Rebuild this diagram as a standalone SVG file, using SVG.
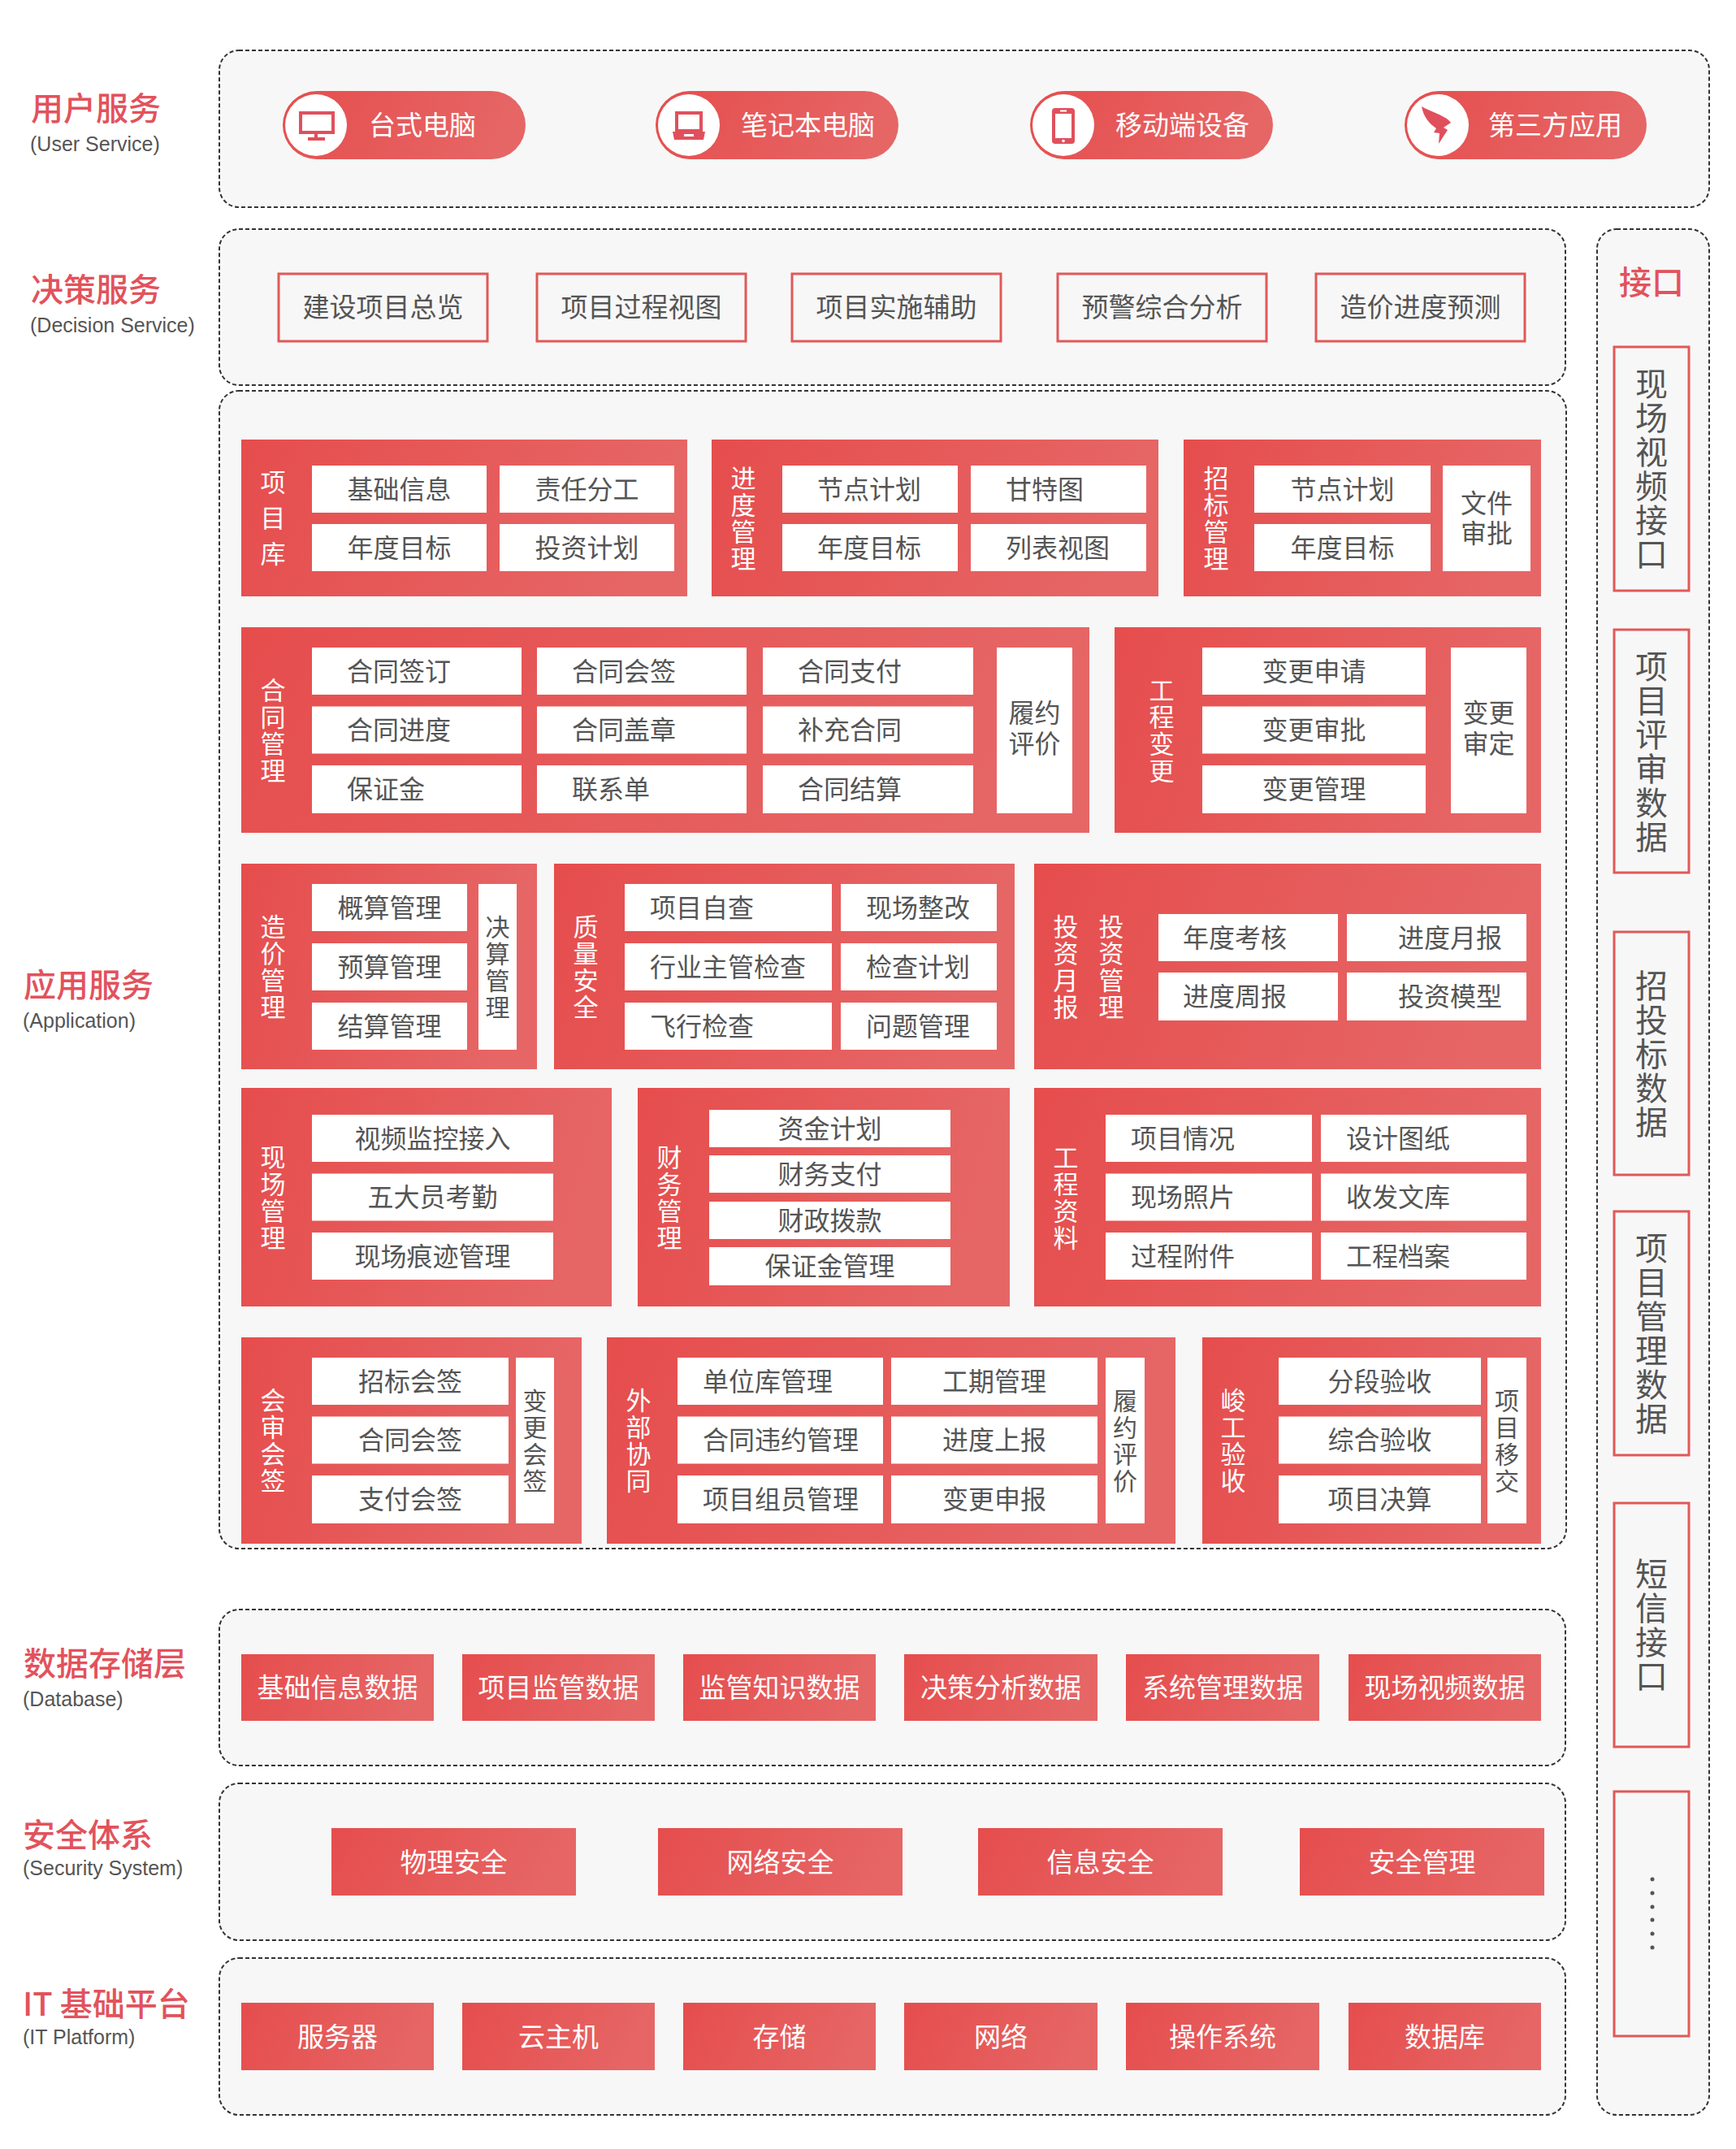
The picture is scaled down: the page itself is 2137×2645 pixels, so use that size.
<svg xmlns="http://www.w3.org/2000/svg" width="2137" height="2645" viewBox="0 0 2137 2645">
<defs>
<linearGradient id="rg" x1="0" y1="0" x2="1" y2="0.15">
<stop offset="0" stop-color="#e64d4d"/>
<stop offset="1" stop-color="#e66666"/>
</linearGradient>
<style>
text{font-family:"Noto Sans CJK SC","Noto Sans",sans-serif}
.box{fill:#f7f7f7;stroke:#333;stroke-width:2;stroke-dasharray:5 3}
.b{fill:url(#rg)}
.w{fill:#fff}
.ob{fill:#f7f7f7;stroke:#e25858;stroke-width:3}
.t{font-size:32px;fill:#555}
.c{text-anchor:middle}
.e{text-anchor:end}
.v{writing-mode:vertical-rl;text-orientation:upright;text-anchor:middle}
.vl{font-size:31px;fill:#fff;letter-spacing:2px}
.vl3{font-size:31px;fill:#fff;letter-spacing:13px}
.vg{font-size:30px;fill:#555;letter-spacing:3px}
.wt{font-size:33px;fill:#fff;text-anchor:middle}
.dt{font-size:33px;fill:#555;text-anchor:middle}
.it{font-size:40px;fill:#555;letter-spacing:2px}
.ttl{font-size:40px;fill:#e2525c;font-weight:500}
.sub{font-family:"Liberation Sans",Arial,sans-serif;font-size:25px;fill:#555}
.pt{font-size:33px;fill:#fff}
.ic{fill:none;stroke:#e0505c;stroke-width:4}
.icf{fill:#e0505c}
</style>
</defs>

<g id="labels">
<text class="ttl" x="38" y="148">用户服务</text>
<text class="sub" x="37" y="186">(User Service)</text>
<text class="ttl" x="38" y="371">决策服务</text>
<text class="sub" x="37" y="409">(Decision Service)</text>
<text class="ttl" x="29" y="1227">应用服务</text>
<text class="sub" x="28" y="1265">(Application)</text>
<text class="ttl" x="29" y="2062">数据存储层</text>
<text class="sub" x="28" y="2100">(Database)</text>
<text class="ttl" x="28" y="2273">安全体系</text>
<text class="sub" x="28" y="2308">(Security System)</text>
<text class="ttl" x="28" y="2481">IT 基础平台</text>
<text class="sub" x="28" y="2516">(IT Platform)</text>
</g>

<g id="containers">
<rect class="box" x="270" y="62" width="1834" height="193" rx="24"/>
<rect class="box" x="270" y="282" width="1657" height="192" rx="24"/>
<rect class="box" x="270" y="481" width="1658" height="1425" rx="24"/>
<rect class="box" x="1966" y="282" width="138" height="2321" rx="24"/>
<rect class="box" x="270" y="1981" width="1657" height="192" rx="24"/>
<rect class="box" x="270" y="2195" width="1657" height="193" rx="24"/>
<rect class="box" x="270" y="2410" width="1657" height="193" rx="24"/>
</g>

<g id="connectors"></g>

<g id="user-desktop">
<rect class="b" x="348" y="112" width="299" height="84" rx="42"/>
<circle cx="389" cy="154" r="38" fill="#fff"/>
<rect class="ic" x="370" y="139" width="40" height="24"/>
<path class="ic" d="M389 163V170M379 171H400"/>
<text class="pt" x="454" y="166">台式电脑</text>
</g>
<g id="user-laptop">
<rect class="b" x="807" y="112" width="299" height="84" rx="42"/>
<circle cx="848" cy="154" r="38" fill="#fff"/>
<rect class="ic" x="833" y="139" width="30" height="22"/>
<path class="icf" d="M828 162H868L866 172H830Z"/>
<rect x="842" y="165" width="12" height="3" fill="#fff"/>
<text class="pt" x="912" y="166">笔记本电脑</text>
</g>
<g id="user-mobile">
<rect class="b" x="1268" y="112" width="299" height="84" rx="42"/>
<circle cx="1309" cy="154" r="38" fill="#fff"/>
<rect class="icf" x="1295" y="133" width="28" height="44" rx="4"/>
<rect x="1299" y="140" width="20" height="30" fill="#fff"/>
<circle cx="1309" cy="173.5" r="1.8" fill="#fff"/>
<rect x="1305" y="135.5" width="8" height="2" fill="#fff"/>
<text class="pt" x="1373" y="166">移动端设备</text>
</g>
<g id="user-thirdparty">
<rect class="b" x="1729" y="112" width="298" height="84" rx="42"/>
<circle cx="1770" cy="154" r="38" fill="#fff"/>
<path class="icf" d="M1750 131C1762 138 1781 143 1786 151L1777 157L1782 160L1771 177L1772 164L1765 163L1768 158C1759 152 1752 143 1750 131Z"/>
<text class="pt" x="1832" y="166">第三方应用</text>
</g>

<g id="decision">
<rect class="ob" x="343" y="337" width="257" height="83"/>
<text class="dt" x="471.5" y="390">建设项目总览</text>
<rect class="ob" x="661" y="337" width="257" height="83"/>
<text class="dt" x="789.5" y="390">项目过程视图</text>
<rect class="ob" x="975" y="337" width="257" height="83"/>
<text class="dt" x="1103.5" y="390">项目实施辅助</text>
<rect class="ob" x="1302" y="337" width="257" height="83"/>
<text class="dt" x="1430.5" y="390">预警综合分析</text>
<rect class="ob" x="1620" y="337" width="257" height="83"/>
<text class="dt" x="1748.5" y="390">造价进度预测</text>
</g>

<g id="interface">
<text class="ttl" x="2033" y="362" text-anchor="middle">接口</text>
<rect class="ob" x="1987" y="427" width="92" height="300"/>
<text class="v it" x="2033" y="578">现场视频接口</text>
<rect class="ob" x="1987" y="775" width="92" height="299"/>
<text class="v it" x="2033" y="925.5">项目评审数据</text>
<rect class="ob" x="1987" y="1147" width="92" height="299"/>
<text class="v it" x="2033" y="1297.5">招投标数据</text>
<rect class="ob" x="1987" y="1491" width="92" height="300"/>
<text class="v it" x="2033" y="1642">项目管理数据</text>
<rect class="ob" x="1987" y="1850" width="92" height="300"/>
<text class="v it" x="2033" y="2001">短信接口</text>
<rect class="ob" x="1987" y="2205" width="92" height="301"/>
<g fill="#555"><circle cx="2034" cy="2313" r="2.5"/><circle cx="2034" cy="2330" r="2.5"/><circle cx="2034" cy="2347" r="2.5"/><circle cx="2034" cy="2363" r="2.5"/><circle cx="2034" cy="2380" r="2.5"/><circle cx="2034" cy="2397" r="2.5"/></g>
</g>

<g id="project-library">
<rect class="b" x="297" y="541" width="549" height="193"/>
<text class="v vl3" x="336" y="644">项目库</text>
<rect class="w" x="384" y="573" width="215" height="58"/><text class="t c" x="491.5" y="613.5">基础信息</text>
<rect class="w" x="615" y="573" width="215" height="58"/><text class="t c" x="722.5" y="613.5">责任分工</text>
<rect class="w" x="384" y="645" width="215" height="58"/><text class="t c" x="491.5" y="685.5">年度目标</text>
<rect class="w" x="615" y="645" width="215" height="58"/><text class="t c" x="722.5" y="685.5">投资计划</text>
</g>

<g id="progress-mgmt">
<rect class="b" x="876" y="541" width="550" height="193"/>
<text class="v vl" x="915" y="638.5">进度管理</text>
<rect class="w" x="963" y="573" width="216" height="58"/><text class="t" x="1006" y="613.5">节点计划</text>
<rect class="w" x="1195" y="573" width="216" height="58"/><text class="t" x="1238" y="613.5">甘特图</text>
<rect class="w" x="963" y="645" width="216" height="58"/><text class="t" x="1006" y="685.5">年度目标</text>
<rect class="w" x="1195" y="645" width="216" height="58"/><text class="t" x="1238" y="685.5">列表视图</text>
</g>

<g id="bidding-mgmt">
<rect class="b" x="1457" y="541" width="440" height="193"/>
<text class="v vl" x="1497" y="638.5">招标管理</text>
<rect class="w" x="1544" y="573" width="217" height="58"/><text class="t c" x="1652.5" y="613.5">节点计划</text>
<rect class="w" x="1544" y="645" width="217" height="58"/><text class="t c" x="1652.5" y="685.5">年度目标</text>
<rect class="w" x="1776" y="573" width="108" height="130"/>
<text class="t c" x="1830" y="630.5">文件</text>
<text class="t c" x="1830" y="667.5">审批</text>
</g>

<g id="contract-mgmt">
<rect class="b" x="297" y="772" width="1044" height="253"/>
<text class="v vl" x="336" y="899.5">合同管理</text>
<rect class="w" x="384" y="797" width="258" height="58"/><text class="t" x="427" y="837.5">合同签订</text>
<rect class="w" x="661" y="797" width="258" height="58"/><text class="t" x="704" y="837.5">合同会签</text>
<rect class="w" x="939" y="797" width="259" height="58"/><text class="t" x="982" y="837.5">合同支付</text>
<rect class="w" x="384" y="869.5" width="258" height="58"/><text class="t" x="427" y="910">合同进度</text>
<rect class="w" x="661" y="869.5" width="258" height="58"/><text class="t" x="704" y="910">合同盖章</text>
<rect class="w" x="939" y="869.5" width="259" height="58"/><text class="t" x="982" y="910">补充合同</text>
<rect class="w" x="384" y="942" width="258" height="59"/><text class="t" x="427" y="982.5">保证金</text>
<rect class="w" x="661" y="942" width="258" height="59"/><text class="t" x="704" y="982.5">联系单</text>
<rect class="w" x="939" y="942" width="259" height="59"/><text class="t" x="982" y="982.5">合同结算</text>
<rect class="w" x="1227" y="797" width="93" height="204"/>
<text class="t c" x="1273.5" y="889">履约</text>
<text class="t c" x="1273.5" y="927">评价</text>
</g>

<g id="engineering-change">
<rect class="b" x="1372" y="772" width="525" height="253"/>
<text class="v vl" x="1430" y="899.5">工程变更</text>
<rect class="w" x="1480" y="797" width="275" height="58"/><text class="t c" x="1617.5" y="837.5">变更申请</text>
<rect class="w" x="1480" y="869.5" width="275" height="58"/><text class="t c" x="1617.5" y="910">变更审批</text>
<rect class="w" x="1480" y="942" width="275" height="59"/><text class="t c" x="1617.5" y="982.5">变更管理</text>
<rect class="w" x="1786" y="797" width="93" height="204"/>
<text class="t c" x="1832.5" y="889">变更</text>
<text class="t c" x="1832.5" y="927">审定</text>
</g>

<g id="cost-mgmt">
<rect class="b" x="297" y="1063" width="364" height="253"/>
<text class="v vl" x="336" y="1190.5">造价管理</text>
<rect class="w" x="384" y="1088" width="191" height="58"/><text class="t c" x="479.5" y="1128.5">概算管理</text>
<rect class="w" x="384" y="1161" width="191" height="58"/><text class="t c" x="479.5" y="1201.5">预算管理</text>
<rect class="w" x="384" y="1234" width="191" height="58"/><text class="t c" x="479.5" y="1274.5">结算管理</text>
<rect class="w" x="589" y="1088" width="47" height="204"/>
<text class="v vg" x="612.5" y="1191.5">决算管理</text>
</g>

<g id="quality-safety">
<rect class="b" x="682" y="1063" width="567" height="253"/>
<text class="v vl" x="721" y="1190.5">质量安全</text>
<rect class="w" x="769" y="1088" width="255" height="58"/><text class="t" x="800" y="1128.5">项目自查</text>
<rect class="w" x="1035" y="1088" width="192" height="58"/><text class="t" x="1066" y="1128.5">现场整改</text>
<rect class="w" x="769" y="1161" width="255" height="58"/><text class="t" x="800" y="1201.5">行业主管检查</text>
<rect class="w" x="1035" y="1161" width="192" height="58"/><text class="t" x="1066" y="1201.5">检查计划</text>
<rect class="w" x="769" y="1234" width="255" height="58"/><text class="t" x="800" y="1274.5">飞行检查</text>
<rect class="w" x="1035" y="1234" width="192" height="58"/><text class="t" x="1066" y="1274.5">问题管理</text>
</g>

<g id="investment-mgmt">
<rect class="b" x="1273" y="1063" width="624" height="253"/>
<text class="v vl" x="1312" y="1190.5">投资月报</text>
<text class="v vl" x="1368" y="1190.5">投资管理</text>
<rect class="w" x="1426" y="1125" width="221" height="58"/><text class="t" x="1456" y="1165.5">年度考核</text>
<rect class="w" x="1658" y="1125" width="221" height="58"/><text class="t e" x="1849" y="1165.5">进度月报</text>
<rect class="w" x="1426" y="1197" width="221" height="59"/><text class="t" x="1456" y="1238">进度周报</text>
<rect class="w" x="1658" y="1197" width="221" height="59"/><text class="t e" x="1849" y="1238">投资模型</text>
</g>

<g id="site-mgmt">
<rect class="b" x="297" y="1339" width="456" height="269"/>
<text class="v vl" x="336" y="1474.5">现场管理</text>
<rect class="w" x="384" y="1372" width="297" height="58"/><text class="t c" x="532.5" y="1412.5">视频监控接入</text>
<rect class="w" x="384" y="1444.5" width="297" height="58"/><text class="t c" x="532.5" y="1485">五大员考勤</text>
<rect class="w" x="384" y="1517" width="297" height="58"/><text class="t c" x="532.5" y="1557.5">现场痕迹管理</text>
</g>

<g id="finance-mgmt">
<rect class="b" x="785" y="1339" width="458" height="269"/>
<text class="v vl" x="824" y="1474.5">财务管理</text>
<rect class="w" x="873" y="1366" width="297" height="46"/><text class="t c" x="1021.5" y="1400.5">资金计划</text>
<rect class="w" x="873" y="1422" width="297" height="46"/><text class="t c" x="1021.5" y="1456.5">财务支付</text>
<rect class="w" x="873" y="1479" width="297" height="46"/><text class="t c" x="1021.5" y="1513.5">财政拨款</text>
<rect class="w" x="873" y="1535" width="297" height="47"/><text class="t c" x="1021.5" y="1570">保证金管理</text>
</g>

<g id="engineering-docs">
<rect class="b" x="1273" y="1339" width="624" height="269"/>
<text class="v vl" x="1312" y="1474.5">工程资料</text>
<rect class="w" x="1361" y="1372" width="254" height="58"/><text class="t" x="1392" y="1412.5">项目情况</text>
<rect class="w" x="1626" y="1372" width="253" height="58"/><text class="t" x="1657" y="1412.5">设计图纸</text>
<rect class="w" x="1361" y="1444.5" width="254" height="58"/><text class="t" x="1392" y="1485">现场照片</text>
<rect class="w" x="1626" y="1444.5" width="253" height="58"/><text class="t" x="1657" y="1485">收发文库</text>
<rect class="w" x="1361" y="1517" width="254" height="58"/><text class="t" x="1392" y="1557.5">过程附件</text>
<rect class="w" x="1626" y="1517" width="253" height="58"/><text class="t" x="1657" y="1557.5">工程档案</text>
</g>

<g id="review-sign">
<rect class="b" x="297" y="1646" width="419" height="254"/>
<text class="v vl" x="336" y="1774">会审会签</text>
<rect class="w" x="384" y="1671" width="242" height="58"/><text class="t c" x="505" y="1711.5">招标会签</text>
<rect class="w" x="384" y="1743.5" width="242" height="58"/><text class="t c" x="505" y="1784">合同会签</text>
<rect class="w" x="384" y="1816" width="242" height="59"/><text class="t c" x="505" y="1857">支付会签</text>
<rect class="w" x="635" y="1671" width="47" height="204"/>
<text class="v vg" x="658.5" y="1774.5">变更会签</text>
</g>

<g id="external-collab">
<rect class="b" x="747" y="1646" width="700" height="254"/>
<text class="v vl" x="786" y="1774">外部协同</text>
<rect class="w" x="834" y="1671" width="253" height="58"/><text class="t" x="865" y="1711.5">单位库管理</text>
<rect class="w" x="1097" y="1671" width="254" height="58"/><text class="t c" x="1224" y="1711.5">工期管理</text>
<rect class="w" x="834" y="1743.5" width="253" height="58"/><text class="t" x="865" y="1784">合同违约管理</text>
<rect class="w" x="1097" y="1743.5" width="254" height="58"/><text class="t c" x="1224" y="1784">进度上报</text>
<rect class="w" x="834" y="1816" width="253" height="59"/><text class="t" x="865" y="1857">项目组员管理</text>
<rect class="w" x="1097" y="1816" width="254" height="59"/><text class="t c" x="1224" y="1857">变更申报</text>
<rect class="w" x="1361" y="1671" width="48" height="204"/>
<text class="v vg" x="1385" y="1774.5">履约评价</text>
</g>

<g id="completion">
<rect class="b" x="1480" y="1646" width="417" height="254"/>
<text class="v vl" x="1518" y="1774">峻工验收</text>
<rect class="w" x="1574" y="1671" width="249" height="58"/><text class="t c" x="1698.5" y="1711.5">分段验收</text>
<rect class="w" x="1574" y="1743.5" width="249" height="58"/><text class="t c" x="1698.5" y="1784">综合验收</text>
<rect class="w" x="1574" y="1816" width="249" height="59"/><text class="t c" x="1698.5" y="1857">项目决算</text>
<rect class="w" x="1831" y="1671" width="48" height="204"/>
<text class="v vg" x="1855" y="1774.5">项目移交</text>
</g>

<g id="database">
<rect class="b" x="297" y="2036" width="237" height="82"/><text class="wt" x="415.5" y="2089">基础信息数据</text>
<rect class="b" x="569" y="2036" width="237" height="82"/><text class="wt" x="687.5" y="2089">项目监管数据</text>
<rect class="b" x="841" y="2036" width="237" height="82"/><text class="wt" x="959.5" y="2089">监管知识数据</text>
<rect class="b" x="1113" y="2036" width="238" height="82"/><text class="wt" x="1232" y="2089">决策分析数据</text>
<rect class="b" x="1386" y="2036" width="238" height="82"/><text class="wt" x="1505" y="2089">系统管理数据</text>
<rect class="b" x="1660" y="2036" width="237" height="82"/><text class="wt" x="1778.5" y="2089">现场视频数据</text>
</g>

<g id="security">
<rect class="b" x="408" y="2250" width="301" height="83"/><text class="wt" x="558.5" y="2303.5">物理安全</text>
<rect class="b" x="810" y="2250" width="301" height="83"/><text class="wt" x="960.5" y="2303.5">网络安全</text>
<rect class="b" x="1204" y="2250" width="301" height="83"/><text class="wt" x="1354.5" y="2303.5">信息安全</text>
<rect class="b" x="1600" y="2250" width="301" height="83"/><text class="wt" x="1750.5" y="2303.5">安全管理</text>
</g>

<g id="it-platform">
<rect class="b" x="297" y="2465" width="237" height="83"/><text class="wt" x="415.5" y="2518.5">服务器</text>
<rect class="b" x="569" y="2465" width="237" height="83"/><text class="wt" x="687.5" y="2518.5">云主机</text>
<rect class="b" x="841" y="2465" width="237" height="83"/><text class="wt" x="959.5" y="2518.5">存储</text>
<rect class="b" x="1113" y="2465" width="238" height="83"/><text class="wt" x="1232" y="2518.5">网络</text>
<rect class="b" x="1386" y="2465" width="238" height="83"/><text class="wt" x="1505" y="2518.5">操作系统</text>
<rect class="b" x="1660" y="2465" width="237" height="83"/><text class="wt" x="1778.5" y="2518.5">数据库</text>
</g>
</svg>
